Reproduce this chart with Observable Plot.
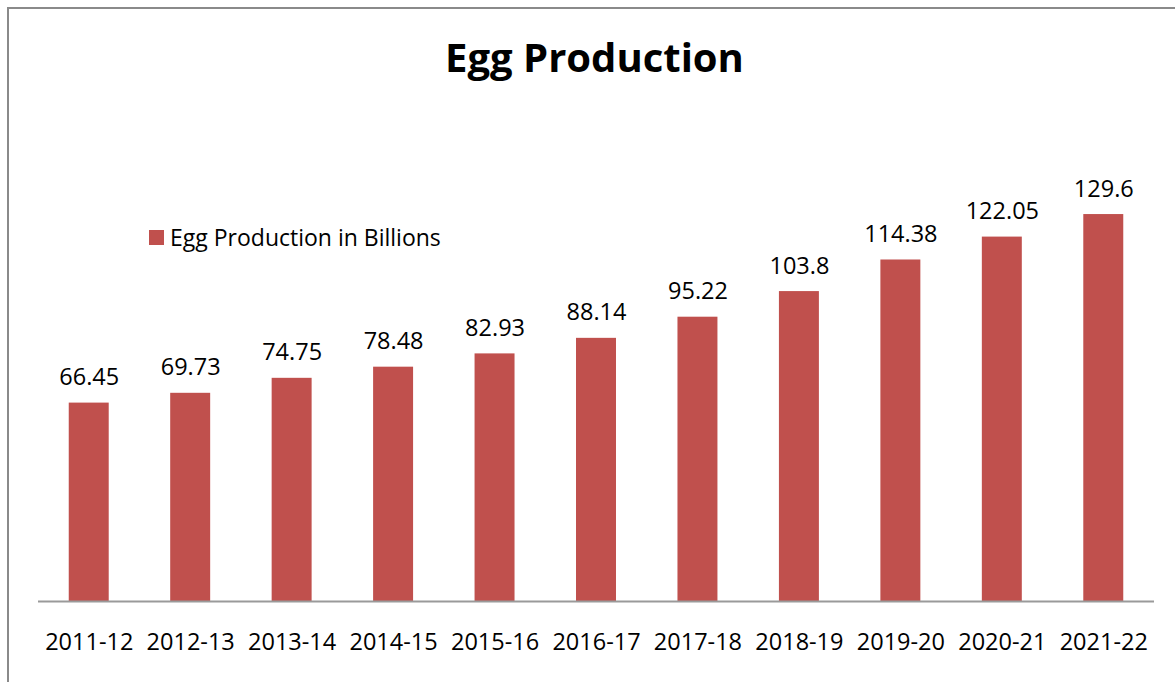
<!DOCTYPE html>
<html>
<head>
<meta charset="utf-8">
<script src="https://cdn.jsdelivr.net/npm/d3@7"></script>
<script src="https://cdn.jsdelivr.net/npm/@observablehq/plot@0.6"></script>
<style>
  html, body { margin: 0; padding: 0; background: #fff; }
  #wrap { position: relative; width: 1175px; height: 682px; overflow: hidden; background: #fff; font-family: "Open Sans", sans-serif; }
  #frame { position: absolute; left: 7px; top: 7px; width: 1300px; height: 900px; border-left: 2px solid #8a8a8a; border-top: 2px solid #8a8a8a; box-sizing: border-box; pointer-events: none; }
  #title { height: 100px; display: flex; justify-content: center; align-items: flex-start; }
  #title span { display: block; margin-top: 37px; margin-left: 14px; font-weight: 700; font-size: 40px; line-height: 1; color: #000; }
  #legend { position: absolute; left: 149px; top: 222px; display: flex; align-items: center; font-size: 23px; line-height: 31px; color: #000; }
  #legend i { display: inline-block; width: 15px; height: 15px; background: #C0504D; margin-right: 6px; }
  #chart svg { display: block; }
</style>
</head>
<body>
<div id="wrap">
  <div id="frame"></div>
  <div id="title"><span>Egg Production</span></div>
  <div id="legend"><i></i><span>Egg Production in Billions</span></div>
  <div id="chart"></div>
</div>
<script>
const years = ["2011-12","2012-13","2013-14","2014-15","2015-16","2016-17","2017-18","2018-19","2019-20","2020-21","2021-22"];
const production = [66.45, 69.73, 74.75, 78.48, 82.93, 88.14, 95.22, 103.8, 114.38, 122.05, 129.6];
const valueLabels = ["66.45","69.73","74.75","78.48","82.93","88.14","95.22","103.8","114.38","122.05","129.6"];
const seriesName = "Egg Production in Billions";

const data = years.map((y, i) => ({year: y, value: production[i], label: valueLabels[i]}));

const chart = Plot.plot({
  width: 1175,
  height: 582,
  marginLeft: 38,
  marginRight: 21,
  marginTop: 83,
  marginBottom: 81,
  style: {fontFamily: "'Open Sans', sans-serif", background: "transparent", color: "#000"},
  x: {domain: years, paddingInner: 0.606, paddingOuter: 0.303, round: false, label: null},
  y: {domain: [0, 140], axis: null},
  marks: [
    Plot.barY(data, {x: "year", y: "value", fill: "#C0504D"}),
    Plot.ruleY([0], {stroke: "#9a9a9a", strokeWidth: 2}),
    Plot.text(data, {x: "year", y: "value", text: "label", fontSize: 23.5, fill: "#000", dy: -25.5}),
    Plot.axisX({tickSize: 0, tickPadding: 32, fontSize: 23.5, fill: "#000", label: null})
  ]
});
document.getElementById("chart").appendChild(chart);
</script>
</body>
</html>
